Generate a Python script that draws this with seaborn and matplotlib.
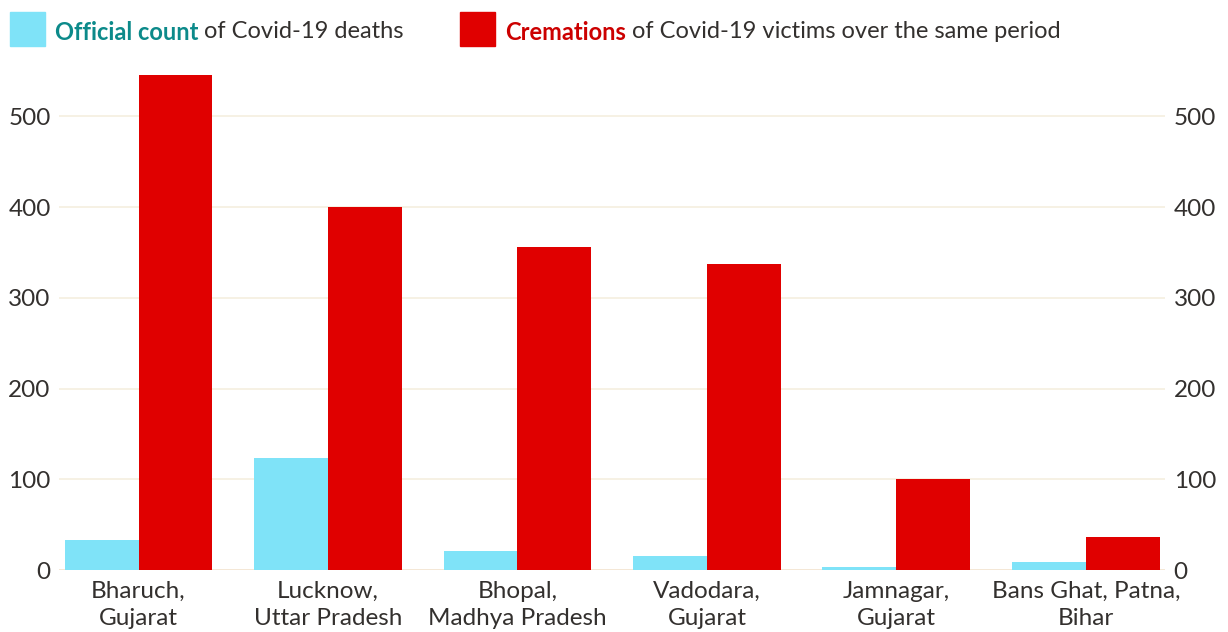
import matplotlib
matplotlib.use("Agg")
import matplotlib.pyplot as plt
import matplotlib.patches as mpatches
import seaborn as sns
import pandas as pd

# data
places = ["Bharuch,\nGujarat", "Lucknow,\nUttar Pradesh", "Bhopal,\nMadhya Pradesh",
          "Vadodara,\nGujarat", "Jamnagar,\nGujarat", "Bans Ghat, Patna,\nBihar"]
official = [33, 123, 21, 16, 3, 9]
cremations = [545, 400, 356, 337, 100, 36]
series = ["Official count", "Cremations"]
yticks = [0, 100, 200, 300, 400, 500]

BLUE = "#7fe3f8"
RED = "#e00000"
TEXT = "#33302e"

df = pd.DataFrame({
    "place": places * 2,
    "series": [series[0]] * len(places) + [series[1]] * len(places),
    "value": official + cremations,
})

sns.set_style("white")
plt.rcParams["font.family"] = ["Lato", "DejaVu Sans"]

fig = plt.figure(figsize=(12.28, 6.32), dpi=100)
ax = fig.add_axes([0.048, 0.098, 0.901, 0.797])

sns.barplot(data=df, x="place", y="value", hue="series", order=places,
            hue_order=series, palette=[BLUE, RED], width=0.78,
            saturation=1, legend=False, linewidth=0, ax=ax)

ax.set_xlim(-0.42, 5.42)
ax.set_ylim(0, 555)
ax.set_yticks(yticks)
ax.set_xlabel("")
ax.set_ylabel("")
for s in ax.spines.values():
    s.set_visible(False)
ax.grid(axis="y", color="#f5efdf", linewidth=1.2)
ax.set_axisbelow(True)
ax.axhline(0, color="#f2b9a0", linewidth=1.2, zorder=0)

ax.tick_params(axis="y", length=0, labelsize=17.5, colors=TEXT, pad=6,
               labelleft=True, labelright=True)
ax.tick_params(axis="x", length=0, labelsize=17.5, colors=TEXT, pad=8)
for lbl in ax.get_xticklabels():
    lbl.set_linespacing(1.35)

# legend built by hand at the top
fig.patches.append(mpatches.Rectangle((10 / 1228, 1 - 46 / 632), 35 / 1228, 34 / 632,
                                      transform=fig.transFigure, color=BLUE))
fig.patches.append(mpatches.Rectangle((460 / 1228, 1 - 46 / 632), 35 / 1228, 34 / 632,
                                      transform=fig.transFigure, color=RED))

renderer = fig.canvas.get_renderer()


def rich_text(x, y, parts):
    for txt, color, weight in parts:
        t = fig.text(x, y, txt, color=color, fontweight=weight, fontsize=17,
                     va="center", ha="left")
        bb = t.get_window_extent(renderer=renderer)
        x += bb.width / fig.bbox.width


ly = 1 - 32 / 632
rich_text(55 / 1228, ly, [("Official count", "#0c8a8a", "bold"),
                          (" of Covid-19 deaths", TEXT, "normal")])
rich_text(505 / 1228, ly, [("Cremations", "#cc0000", "bold"),
                           (" of Covid-19 victims over the same period", TEXT, "normal")])

fig.savefig("out.png", dpi=100)
